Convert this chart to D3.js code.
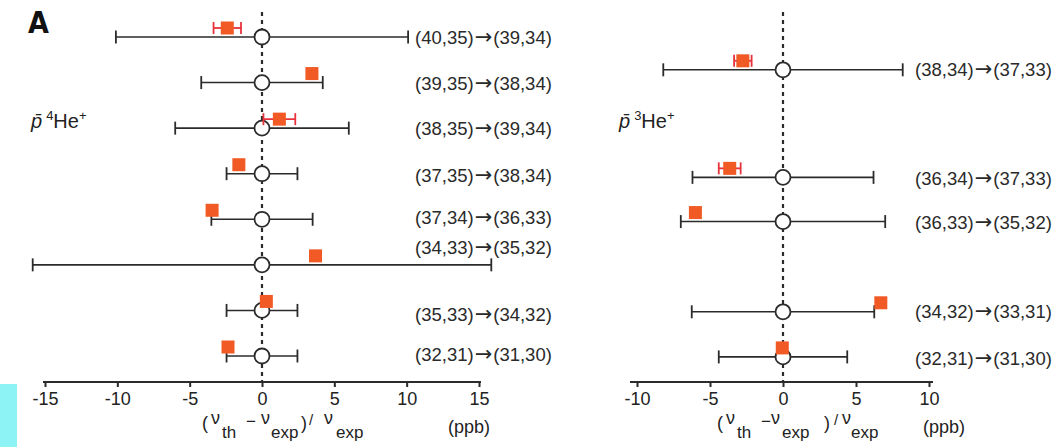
<!DOCTYPE html>
<html>
<head>
<meta charset="utf-8">
<script src="https://cdn.jsdelivr.net/npm/d3@7/dist/d3.min.js"></script>
<style>
  html, body { margin: 0; padding: 0; background: #fff; }
  svg { display: block; }
  text { font-family: "Liberation Sans", Arial, Helvetica, sans-serif; fill: #222; }
</style>
</head>
<body>
<svg id="chart" width="1062" height="447"></svg>
<script>
// ---------- DATA ----------
// Left panel: antiprotonic helium-4
const leftFrom = ["(40,35)", "(39,35)", "(38,35)", "(37,35)", "(37,34)", "(34,33)", "(35,33)", "(32,31)"];
const leftTo   = ["(39,34)", "(38,34)", "(39,34)", "(38,34)", "(36,33)", "(35,32)", "(34,32)", "(31,30)"];
const leftRow = [0, 1, 2, 3, 4, 5, 6, 7];
const leftExpErr = [10.1, 4.2, 6.0, 2.45, 3.5, 15.85, 2.45, 2.45];   // black error bars (around 0)
const leftTheory = [-2.4, 3.45, 1.2, -1.6, -3.45, 3.7, 0.3, -2.35]; // orange squares
const leftTheoryErr = [0.95, 0, 1.1, 0, 0, 0, 0, 0];               // red error bars

// Right panel: antiprotonic helium-3
const rightFrom = ["(38,34)", "(36,34)", "(36,33)", "(34,32)", "(32,31)"];
const rightTo   = ["(37,33)", "(37,33)", "(35,32)", "(33,31)", "(31,30)"];
const rightRow = [0.72, 3.08, 4.05, 6.03, 7.02];
const rightExpErr = [8.2, 6.2, 7.0, 6.25, 4.4];
const rightTheory = [-2.75, -3.65, -6.0, 6.7, -0.05];
const rightTheoryErr = [0.6, 0.75, 0, 0, 0];

const leftTicks = [-15, -10, -5, 0, 5, 10, 15];
const rightTicks = [-10, -5, 0, 5, 10];

// ---------- LAYOUT ----------
const svg = d3.select("#chart");
const axisY = 382;
const y = d3.scaleLinear().domain([0, 7]).range([37, 356]);

const colBlack = "#2b2b2b";
const colSquare = "#f15a24";
const colRedBar = "#e8323c";

// cyan artifact at bottom-left
svg.append("rect").attr("x", 0).attr("y", 384).attr("width", 17).attr("height", 63).attr("fill", "#8ef3f4");

// panel letter
svg.append("text").attr("x", 28).attr("y", 33)
  .style("font-family", "'Liberation Sans Narrow', 'DejaVu Sans Condensed', sans-serif")
  .style("font-stretch", "condensed")
  .style("font-weight", "bold").style("font-size", "30px").style("fill", "#111")
  .text("A");

function panel(cfg) {
  const x = d3.scaleLinear().domain(cfg.domain).range(cfg.range);
  const g = svg.append("g");

  // zero dashed line
  g.append("line")
    .attr("x1", x(0)).attr("x2", x(0)).attr("y1", 12).attr("y2", axisY)
    .attr("stroke", colBlack).attr("stroke-width", 2.2).attr("stroke-dasharray", "4,4");

  // axis
  const axis = d3.axisBottom(x).tickValues(cfg.ticks).tickSize(5).tickSizeOuter(0).tickPadding(5)
    .tickFormat(d3.format("d"));
  const ag = g.append("g").attr("transform", `translate(0,${axisY})`).call(axis);
  ag.select(".domain").remove();
  ag.append("line").attr("x1", cfg.range[0] - cfg.pad[0]).attr("x2", cfg.range[1] + cfg.pad[1])
    .attr("y1", 0).attr("y2", 0).attr("stroke", colBlack).attr("stroke-width", 2);
  ag.selectAll(".tick line").attr("stroke", colBlack).attr("stroke-width", 2);
  ag.selectAll(".tick text")
    .style("font-family", "'Liberation Sans', Arial, sans-serif")
    .style("font-size", "18px").style("fill", "#222")
    .text(d => d < 0 ? "-" + Math.abs(d) : d);

  const rows = cfg.from.map((f, i) => ({
    from: f, to: cfg.to[i], row: cfg.row[i], err: cfg.expErr[i], th: cfg.theory[i], thErr: cfg.theoryErr[i], lOff: cfg.labelOff[i]
  }));

  // black error bars
  const eb = g.selectAll("g.eb").data(rows).join("g").attr("class", "eb");
  eb.append("line")
    .attr("x1", d => x(-d.err)).attr("x2", d => x(d.err))
    .attr("y1", d => y(d.row)).attr("y2", d => y(d.row))
    .attr("stroke", colBlack).attr("stroke-width", 1.6);
  eb.append("line")
    .attr("x1", d => x(-d.err)).attr("x2", d => x(-d.err))
    .attr("y1", d => y(d.row) - 6.5).attr("y2", d => y(d.row) + 6.5)
    .attr("stroke", colBlack).attr("stroke-width", 1.8);
  eb.append("line")
    .attr("x1", d => x(d.err)).attr("x2", d => x(d.err))
    .attr("y1", d => y(d.row) - 6.5).attr("y2", d => y(d.row) + 6.5)
    .attr("stroke", colBlack).attr("stroke-width", 1.8);

  // open circles at 0
  g.selectAll("circle.c").data(rows).join("circle").attr("class", "c")
    .attr("cx", x(0)).attr("cy", d => y(d.row)).attr("r", 7.5)
    .attr("fill", "#fff").attr("stroke", colBlack).attr("stroke-width", 1.8);

  // red theory error bars
  const off = -9;
  const rb = g.selectAll("g.rb").data(rows.filter(d => d.thErr > 0)).join("g").attr("class", "rb");
  rb.append("line")
    .attr("x1", d => x(d.th - d.thErr)).attr("x2", d => x(d.th + d.thErr))
    .attr("y1", d => y(d.row) + off).attr("y2", d => y(d.row) + off)
    .attr("stroke", colRedBar).attr("stroke-width", 1.8);
  [-1, 1].forEach(s => {
    rb.append("line")
      .attr("x1", d => x(d.th + s * d.thErr)).attr("x2", d => x(d.th + s * d.thErr))
      .attr("y1", d => y(d.row) + off - 6).attr("y2", d => y(d.row) + off + 6)
      .attr("stroke", colRedBar).attr("stroke-width", 1.8);
  });

  // orange squares
  const sz = 13;
  g.selectAll("rect.sq").data(rows).join("rect").attr("class", "sq")
    .attr("x", d => x(d.th) - sz / 2).attr("y", d => y(d.row) + off - sz / 2)
    .attr("width", sz).attr("height", sz).attr("fill", colSquare);

  // transition labels
  const lab = g.selectAll("text.lab").data(rows).join("text").attr("class", "lab")
    .attr("x", cfg.labelX).attr("y", d => y(d.row) + d.lOff).attr("dy", "0.35em")
    .style("font-size", "18.5px").style("fill", "#2a2a2a");
  lab.append("tspan").text(d => d.from);
  lab.append("tspan").style("font-family", "'DejaVu Sans', sans-serif").style("font-size", "21px")
    .attr("dx", 1).text("\u2192");
  lab.append("tspan").attr("dx", 1).text(d => d.to);

  // species label
  const sp = g.append("text").attr("x", cfg.speciesX).attr("y", 128).style("font-size", "20px").style("fill", "#222");
  sp.append("tspan").style("font-style", "italic").text("p\u0304");
  sp.append("tspan").attr("dx", 4).attr("dy", -8).style("font-size", "13px").text(cfg.mass);
  sp.append("tspan").attr("dy", 8).text("He");
  sp.append("tspan").attr("dy", -8).style("font-size", "13px").text("+");

  // axis title
  const t = g.append("text").style("fill", "#222");
  cfg.title.forEach(p => {
    t.append("tspan").attr("x", p[0]).attr("y", p[1]).style("font-size", p[2] + "px").text(p[3]);
  });
  g.append("text").attr("x", cfg.ppbX).attr("y", 433).style("font-size", "18px").style("fill", "#222").text("(ppb)");
}

panel({
  domain: [-15, 15], range: [45, 479], pad: [2, 2], ticks: leftTicks,
  from: leftFrom, to: leftTo, row: leftRow, expErr: leftExpErr, theory: leftTheory, theoryErr: leftTheoryErr,
  labelOff: [1, 1, 0, 2, -2, -17, 4, -1], labelX: 415, speciesX: 31, mass: "4",
  ppbX: 448,
  title: [[202, 429, 18, "("], [211, 424, 18, "\u03bd"], [222, 438, 17, "th"], [246, 427, 17, "\u2212"],
          [261, 424, 18, "\u03bd"], [271, 438, 17, "exp"], [301, 429, 18, ")"], [309, 425, 15, "/"],
          [324, 424, 18, "\u03bd"], [336, 438, 17, "exp"]]
});

panel({
  domain: [-10, 10], range: [637, 929], pad: [7, 4], ticks: rightTicks,
  from: rightFrom, to: rightTo, row: rightRow, expErr: rightExpErr, theory: rightTheory, theoryErr: rightTheoryErr,
  labelOff: [0, 1, 1, 0, 2], labelX: 915, speciesX: 619, mass: "3",
  ppbX: 923,
  title: [[717, 429, 18, "("], [726, 424, 18, "\u03bd"], [737, 438, 17, "th"], [761, 427, 17, "\u2212"],
          [771, 424, 18, "\u03bd"], [782, 438, 17, "exp"], [824, 429, 18, ")"], [834, 425, 15, "/"],
          [842, 424, 18, "\u03bd"], [851, 438, 17, "exp"]]
});
</script>
</body>
</html>
